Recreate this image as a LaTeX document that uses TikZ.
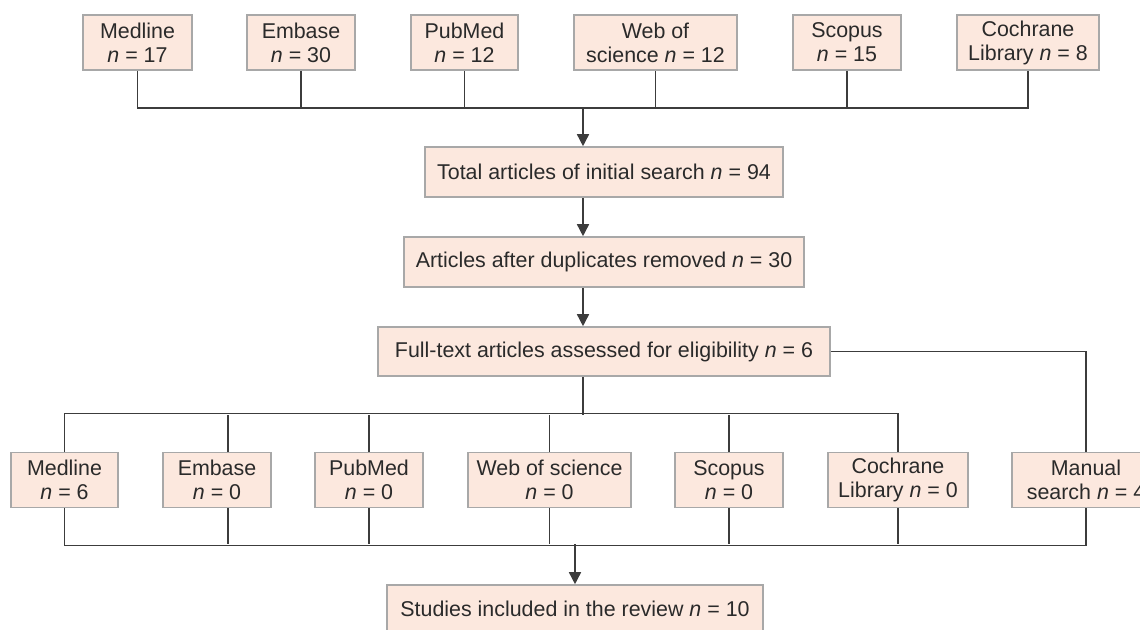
\documentclass[tikz,border=0pt]{standalone}
\usepackage{fontspec}
\setmainfont{Liberation Sans}
\usetikzlibrary{positioning,calc,arrows.meta}
\definecolor{boxfill}{HTML}{FCE8DE}
\definecolor{boxline}{HTML}{A8A8A8}
\definecolor{wirecol}{HTML}{3C3C3C}
\definecolor{inkcol}{HTML}{2A2A2A}

\begin{document}
\begin{tikzpicture}[
x=0.5pt,y=-0.5pt,
box/.style={rectangle,draw=boxline,fill=boxfill,line width=0.8pt,align=center,
  inner sep=0pt,minimum height=27.5pt,text=inkcol,font=\fontsize{10.7}{12}\selectfont},
wire/.style={draw=wirecol,line width=0.75pt},
arr/.style={wire,-{Triangle[width=6pt,length=6pt]}}
]
\useasboundingbox (0,0) rectangle (1140,629);

% databases, first search
\node [box,minimum width=54.5pt] (med) at (137.5,42.5) {Medline\\\textit{n} = 17};
\node [box,minimum width=54pt] (emb) at (301,42.5) {Embase\\\textit{n} = 30};
\node [box,minimum width=53.5pt] (pub) at (464.5,42.5) {PubMed\\\textit{n} = 12};
\node [box,minimum width=81.5pt] (web) at (655.5,42.5) {Web of\\science \textit{n} = 12};
\node [box,minimum width=54pt] (sco) at (847,42.5) {Scopus\\\textit{n} = 15};
\node [box,minimum width=71pt] (coch) at (1028,42.5) {Cochrane\\Library \textit{n} = 8};

% main steps
\node [box,minimum width=179pt,minimum height=25pt] (total) at (604,172) {Total articles of initial search \textit{n} = 94};
\node [box,minimum width=200pt,minimum height=25pt] (art) at (604,262) {Articles after duplicates removed \textit{n} = 30};
\node [box,minimum width=226pt,minimum height=24.5pt] (full) at (604,351.5) {Full-text articles assessed for eligibility \textit{n} = 6};

% databases, second search
\node [box,minimum width=53.5pt] (med2) at (64.5,480) {Medline\\\textit{n} = 6};
\node [box,minimum width=54pt] (emb2) at (217,480) {Embase\\\textit{n} = 0};
\node [box,minimum width=54pt] (pub2) at (369,480) {PubMed\\\textit{n} = 0};
\node [box,minimum width=81.5pt] (web2) at (549.5,480) {Web of science\\\textit{n} = 0};
\node [box,minimum width=54pt] (sco2) at (729,480) {Scopus\\\textit{n} = 0};
\node [box,minimum width=70pt] (coch2) at (898,480) {Cochrane\\Library \textit{n} = 0};
\node [box,minimum width=74pt] (man) at (1086,480) {Manual\\search \textit{n} = 4};

\node [box,minimum width=188pt,minimum height=24pt] (stud) at (575,609) {Studies included in the review \textit{n} = 10};

% top bus
\coordinate (hub1) at (583,107);
\draw [wire] (med.south) -- ++(0,37) -| (coch.south);
\foreach \n in {emb,pub,web,sco}
  \draw [wire] (\n.south) -- (\n.south |- hub1);
\draw [arr] (hub1) -- (hub1 |- total.north);
\draw [arr] (hub1 |- total.south) -- (hub1 |- art.north);
\draw [arr] (hub1 |- art.south) -- (hub1 |- full.north);

% split to second search
\coordinate (hub2) at (583,415);
\draw [wire] (hub1 |- full.south) -- (hub2);
\draw [wire] (med2.north) -- ++(0,-38) -| (coch2.north);
\draw [wire] ([xshift=5.5pt]emb2.north) -- ([xshift=5.5pt]emb2.north |- hub2);
\foreach \n in {pub2,web2,sco2}
  \draw [wire] (\n.north) -- (\n.north |- hub2);
\draw [wire] (full.east) -| (man.north);

% bottom bus
\coordinate (hub3) at (575,544);
\draw [wire] (med2.south) -- ++(0,37) -| (man.south);
\draw [wire] ([xshift=5.5pt]emb2.south) -- ([xshift=5.5pt]emb2.south |- hub3);
\foreach \n in {pub2,web2,sco2,coch2}
  \draw [wire] (\n.south) -- (\n.south |- hub3);
\draw [arr] (hub3) -- (stud.north);
\end{tikzpicture}
\end{document}
